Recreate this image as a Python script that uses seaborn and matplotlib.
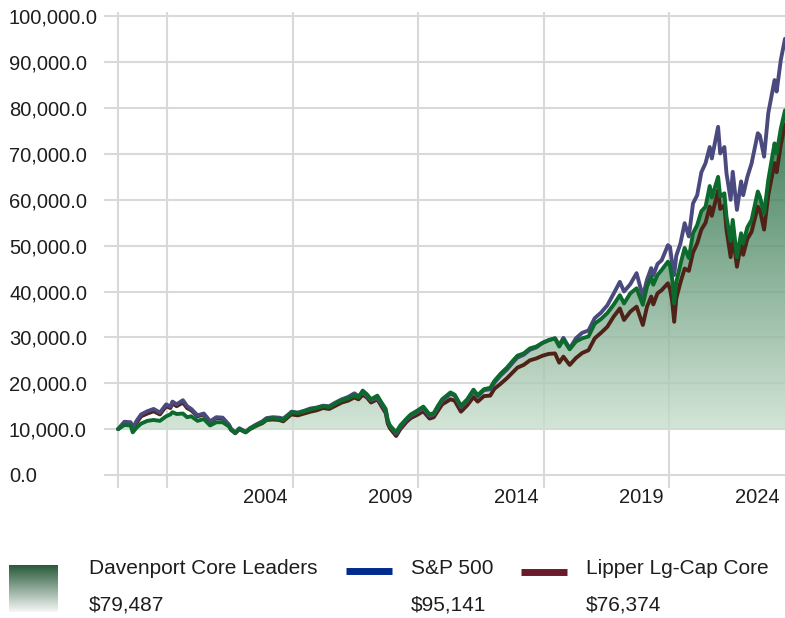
import numpy as np
import pandas as pd
import seaborn as sns
import matplotlib
import matplotlib.pyplot as plt
from matplotlib.colors import LinearSegmentedColormap
from matplotlib.ticker import FuncFormatter
from matplotlib.lines import Line2D

matplotlib.use("Agg")

# Dados (valores em milhares de US$)
meses = [
    "1998-01", "1998-04", "1998-07", "1998-08", "1998-10", "1998-12",
    "1999-03", "1999-06", "1999-09", "1999-12", "2000-02", "2000-03",
    "2000-05", "2000-08", "2000-10", "2000-12", "2001-03", "2001-06",
    "2001-09", "2001-12", "2002-03", "2002-06", "2002-07", "2002-09",
    "2002-11", "2003-02", "2003-04", "2003-07", "2003-10", "2003-12",
    "2004-03", "2004-06", "2004-08", "2004-11", "2004-12", "2005-03",
    "2005-06", "2005-09", "2005-12", "2006-03", "2006-06", "2006-09",
    "2006-12", "2007-03", "2007-06", "2007-08", "2007-10", "2007-12",
    "2008-02", "2008-05", "2008-07", "2008-09", "2008-10", "2008-11",
    "2009-02", "2009-04", "2009-07", "2009-09", "2009-12", "2010-03",
    "2010-06", "2010-08", "2010-10", "2010-12", "2011-04", "2011-06",
    "2011-09", "2011-12", "2012-03", "2012-05", "2012-08", "2012-11",
    "2013-01", "2013-04", "2013-07", "2013-10", "2013-12", "2014-03",
    "2014-06", "2014-09", "2014-12", "2015-03", "2015-06", "2015-08",
    "2015-10", "2016-01", "2016-04", "2016-07", "2016-10", "2017-01",
    "2017-04", "2017-07", "2017-10", "2018-01", "2018-03", "2018-06",
    "2018-09", "2018-12", "2019-02", "2019-04", "2019-05", "2019-07",
    "2019-09", "2019-12", "2020-01", "2020-02", "2020-03", "2020-04",
    "2020-06", "2020-08", "2020-10", "2020-12", "2021-02", "2021-04",
    "2021-06", "2021-08", "2021-09", "2021-12", "2022-01", "2022-03",
    "2022-04", "2022-06", "2022-07", "2022-09", "2022-11", "2022-12",
    "2023-02", "2023-04", "2023-07", "2023-08", "2023-10", "2023-12",
    "2024-03", "2024-04", "2024-06", "2024-08",
]

davenport = [
    10.0, 10.9, 10.8, 9.3, 10.4, 11.2,
    11.8, 12.0, 11.8, 12.8, 13.2, 13.7,
    13.3, 13.4, 12.6, 12.8, 11.8, 12.2,
    10.8, 11.5, 11.5, 10.6, 9.8, 9.2,
    10.0, 9.3, 10.0, 10.8, 11.5, 12.2,
    12.4, 12.2, 12.0, 13.2, 13.7, 13.5,
    13.9, 14.3, 14.6, 15.0, 14.8, 15.6,
    16.3, 16.7, 17.3, 16.9, 18.4, 17.6,
    16.5, 17.3, 15.8, 14.4, 11.9, 10.8,
    9.3, 10.8, 12.3, 13.2, 14.0, 14.9,
    13.2, 13.5, 15.1, 16.5, 18.0, 17.5,
    15.1, 16.5, 18.6, 17.4, 18.7, 19.0,
    20.5, 22.1, 23.4, 25.0, 26.0, 26.5,
    27.6, 28.0, 28.8, 29.4, 29.8, 28.0,
    29.5, 27.4, 29.1, 29.8, 30.2, 33.0,
    34.0, 35.3, 37.1, 39.2, 37.4, 39.6,
    40.7, 37.1, 41.1, 43.2, 41.5, 43.6,
    44.7, 46.5, 45.6, 42.8, 37.4, 42.0,
    46.0, 49.5, 47.3, 52.7, 54.5, 57.5,
    58.5, 63.0, 60.5, 65.0, 60.7, 61.4,
    56.3, 51.0, 55.6, 47.5, 52.7, 50.5,
    54.0, 55.6, 61.8, 60.7, 57.0, 64.3,
    72.3, 70.1, 75.5, 79.5,
]

sp500 = [
    10.0, 11.6, 11.5, 10.3, 11.9, 13.2,
    13.9, 14.4, 13.6, 15.4, 14.9, 16.0,
    15.4, 16.3, 15.0, 14.4, 13.0, 13.4,
    11.7, 12.6, 12.5, 11.0, 10.1, 9.2,
    10.2, 9.4, 10.2, 11.0, 11.7, 12.4,
    12.6, 12.5, 12.3, 13.4, 13.8, 13.6,
    14.0, 14.5, 14.7, 15.1, 15.0, 15.8,
    16.5, 17.0, 17.8, 17.2, 18.0, 17.2,
    16.3, 16.8, 15.5, 14.0, 11.7, 10.7,
    9.0, 10.5, 12.1, 12.9, 13.7, 14.6,
    12.9, 13.2, 14.8, 16.2, 17.7, 17.3,
    14.8, 16.2, 18.3, 17.1, 18.5, 18.7,
    20.1, 21.7, 23.0, 24.6, 25.6, 26.2,
    27.3, 27.8, 28.8, 29.4, 29.8, 28.3,
    29.9, 27.6, 29.8, 31.0, 31.5, 34.2,
    35.4, 37.0, 39.5, 42.1, 40.0, 41.6,
    44.0, 38.9, 42.6, 45.1, 43.5, 46.0,
    46.8, 50.1, 49.7, 46.2, 43.6, 47.8,
    50.5, 54.9, 52.0, 59.2, 61.0, 66.0,
    68.0, 71.5, 69.0, 75.9, 70.1, 71.5,
    65.8, 60.0, 66.1, 57.8, 64.0, 61.0,
    65.0, 67.9, 74.5, 74.0, 69.4, 78.9,
    86.1, 83.6, 90.5, 95.1,
]

lipper = [
    10.0, 11.3, 11.2, 10.0, 11.5, 12.8,
    13.4, 13.9, 13.2, 15.0, 14.6, 15.6,
    15.0, 15.8, 14.6, 14.1, 12.8, 13.2,
    11.6, 12.4, 12.3, 10.8, 10.0, 9.1,
    10.0, 9.3, 10.0, 10.7, 11.3, 12.0,
    12.1, 12.0, 11.7, 12.9, 13.2, 13.0,
    13.4, 13.8, 14.1, 14.6, 14.4, 15.1,
    15.8, 16.2, 16.9, 16.5, 17.5, 16.9,
    15.8, 16.5, 15.0, 13.5, 11.2, 10.2,
    8.5, 10.0, 11.6, 12.4, 13.1, 13.9,
    12.3, 12.6, 14.0, 15.4, 16.5, 16.2,
    13.8, 15.2, 17.0, 16.0, 17.2, 17.3,
    18.8, 19.9, 21.1, 22.5, 23.4, 24.0,
    25.0, 25.4, 26.0, 26.4, 26.5, 24.5,
    25.8, 24.0, 25.5, 26.6, 27.2, 29.8,
    31.0, 32.3, 34.5, 36.3, 33.8, 35.6,
    36.7, 32.7, 36.7, 38.9, 37.2, 39.6,
    40.3, 41.8, 40.5, 38.0, 33.4, 38.5,
    42.0, 45.0, 44.5, 48.5, 50.5, 53.5,
    55.0, 58.5, 56.5, 62.0, 58.0, 58.8,
    53.5, 47.5, 52.5, 45.4, 50.5, 48.0,
    51.5, 53.0, 58.5, 57.8, 53.5, 61.0,
    68.0, 66.0, 72.0, 76.4,
]

nomes = ["Davenport Core Leaders", "S&P 500", "Lipper Lg-Cap Core"]
finais = ["$79,487", "$95,141", "$76,374"]
grade_x = [2000, 2005, 2010, 2015, 2020]
rotulos_x = ["2004", "2009", "2014", "2019", "2024"]

# Configurações visuais
sns.set_style("whitegrid")
plt.rcParams["font.family"] = ["Liberation Sans", "DejaVu Sans"]

df = pd.DataFrame({"mes": pd.to_datetime(meses), "dav": davenport, "sp": sp500, "lip": lipper})
df["ano"] = df["mes"].dt.year + (df["mes"].dt.month - 0.5) / 12

cor_grade = "#d9d9d9"
cor_texto = "#1e1e1e"

fig = plt.figure(figsize=(7.85, 6.18), dpi=100)
x_ini, x_fim = 1997.48, df["ano"].iloc[-1]
ax = fig.add_axes([104 / 785, 1 - 477.75 / 618, 681 / 785, (477.75 - 11.7) / 618])

# Área com gradiente entre a linha Davenport e 10.000
poly = ax.fill_between(df["ano"], df["dav"], 10, facecolor="none", edgecolor="none")
cmap_area = LinearSegmentedColormap.from_list("verde", ["#c9dfce", "#0b5a2c"])
grad = np.linspace(0, 1, 256).reshape(-1, 1)
img = ax.imshow(grad, cmap=cmap_area, aspect="auto", origin="lower",
                extent=[x_ini, x_fim, 10, 80], alpha=0.8, zorder=1.5)
img.set_clip_path(poly.get_paths()[0], ax.transData)

# Linhas
sns.lineplot(x=df["ano"], y=df["lip"], color="#4f2217", linewidth=2.8, ax=ax, zorder=3)
sns.lineplot(x=df["ano"], y=df["sp"], color="#4b4a7e", linewidth=2.8, ax=ax, zorder=4)
sns.lineplot(x=df["ano"], y=df["dav"], color="#0b6a2c", linewidth=2.8, ax=ax, zorder=5)

ax.set_xlim(x_ini, x_fim)
ax.set_ylim(-0.6, 101)
ax.set_xlabel("")
ax.set_ylabel("")
for s in ax.spines.values():
    s.set_visible(False)

ax.set_yticks(range(0, 101, 10))
ax.yaxis.set_major_formatter(FuncFormatter(lambda v, p: f"{v * 1000:,.1f}"))
ax.tick_params(axis="y", length=0, pad=68.4, labelsize=14.5, labelcolor=cor_texto)
for lab in ax.get_yticklabels():
    lab.set_horizontalalignment("left")

ax.set_xticks([df["ano"].iloc[0]] + grade_x)
ax.set_xticklabels([])
ax.tick_params(axis="x", bottom=True, length=7.5, width=1.5, color=cor_grade)
ax.grid(True, color=cor_grade, linewidth=1.5)
ax.set_axisbelow(True)

posicoes = grade_x[1:] + [x_fim]
for pos, rot in zip(posicoes, rotulos_x):
    ax.annotate(rot, xy=(pos, 0), xycoords=("data", "axes fraction"),
                xytext=(-5, -20), textcoords="offset pixels",
                ha="right", va="center", fontsize=14.5, color=cor_texto)

# Legenda
ax_leg = fig.add_axes([9 / 785, 1 - 612 / 618, 49 / 785, 47 / 618])
cmap_leg = LinearSegmentedColormap.from_list("leg", ["#f6f8f6", "#28593a"])
ax_leg.imshow(grad, cmap=cmap_leg, aspect="auto", origin="lower")
ax_leg.axis("off")

fig.add_artist(Line2D([346 / 785, 392 / 785], [1 - 571 / 618] * 2, transform=fig.transFigure,
                      color="#002b8e", linewidth=5, solid_capstyle="butt"))
fig.add_artist(Line2D([521 / 785, 567 / 785], [1 - 572 / 618] * 2, transform=fig.transFigure,
                      color="#6b1a2e", linewidth=5, solid_capstyle="butt"))

for xpx, nome, final in zip([89, 411, 586], nomes, finais):
    fig.text(xpx / 785, 1 - 569 / 618, nome, ha="left", va="center", fontsize=15, color=cor_texto)
    fig.text(xpx / 785, 1 - 605 / 618, final, ha="left", va="center", fontsize=15, color=cor_texto)

fig.savefig("out.png", dpi=100)
